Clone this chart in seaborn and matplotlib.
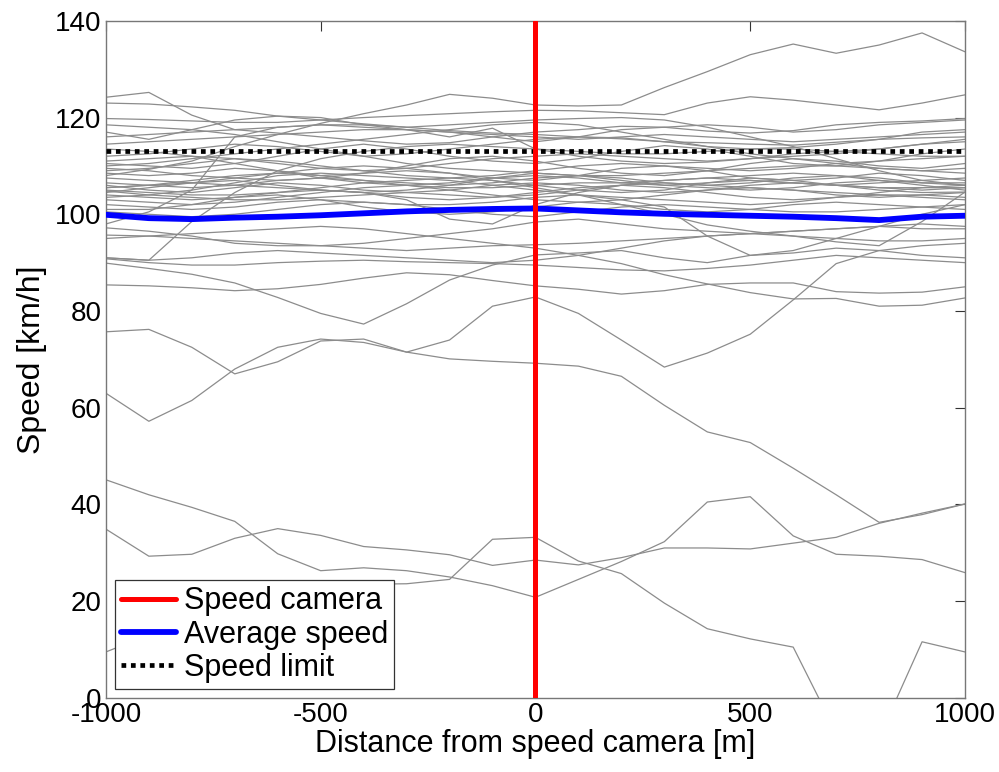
import numpy as np
import pandas as pd
import matplotlib
matplotlib.use("Agg")
import matplotlib.pyplot as plt
import seaborn as sns

# ---------------- data ----------------
distance = [-1000, -900, -800, -700, -600, -500, -400, -300, -200, -100, 0,
            100, 200, 300, 400, 500, 600, 700, 800, 900, 1000]

veh_A = [75.7, 76.2, 72.5, 67.0, 69.5, 73.8, 74.2, 71.5, 70.1, 69.6, 69.2, 68.6, 66.5, 60.5, 55.0, 52.8, 47.5, 42.0, 36.3, 37.9, 40.1]
veh_B = [45.1, 42.0, 39.4, 36.5, 29.8, 26.3, 26.9, 26.3, 25.0, 23.2, 20.8, 24.5, 28.2, 32.3, 40.5, 41.6, 33.5, 29.7, 29.3, 28.6, 25.9]
veh_C = [34.9, 29.3, 29.7, 33.0, 35.0, 33.6, 31.3, 30.6, 29.6, 27.4, 28.5, 27.5, 29.0, 31.0, 31.0, 30.8, 32.0, 33.2, 36.1, 38.2, 40.1]
veh_E = [9.5, 13.0, 16.5, 19.0, 21.0, 22.5, 23.5, 23.6, 24.5, 32.8, 33.2, 28.3, 25.7, 19.6, 14.3, 12.2, 10.5, -7.2, -8.2, 11.6, 9.5]
veh_F = [85.4, 85.2, 84.8, 84.2, 84.6, 85.5, 86.8, 87.9, 87.5, 86.3, 85.2, 84.5, 83.5, 84.2, 85.5, 85.8, 85.8, 84.0, 83.7, 83.9, 85.0]
veh_G = [89.9, 88.8, 87.6, 85.8, 82.8, 79.5, 77.3, 81.5, 86.4, 89.5, 91.6, 92.0, 92.5, 91.0, 90.0, 91.5, 92.0, 93.0, 92.5, 91.5, 91.0]
veh_I = [63.0, 57.2, 61.5, 68.0, 72.5, 74.2, 73.5, 71.5, 74.0, 81.0, 82.9, 79.5, 74.0, 68.4, 71.3, 75.2, 82.3, 89.8, 92.5, 93.5, 94.0]
veh_K = [95.0, 95.5, 96.0, 96.5, 97.0, 97.5, 97.0, 96.0, 95.0, 94.0, 93.0, 91.5, 89.8, 87.5, 85.6, 83.8, 82.5, 82.6, 81.0, 81.2, 82.7]
veh_U1 = [124.2, 125.2, 120.5, 117.5, 116.8, 116.0, 115.2, 114.5, 114.8, 116.0, 117.0, 117.5, 118.2, 118.0, 117.2, 116.8, 117.3, 118.5, 119.0, 119.3, 119.8]
veh_U2 = [123.0, 122.8, 122.2, 121.5, 120.3, 119.5, 118.7, 118.0, 117.3, 116.8, 116.5, 116.0, 115.6, 115.0, 114.8, 114.5, 114.3, 114.9, 115.5, 115.8, 116.0]
veh_U3 = [108.0, 109.3, 111.0, 114.0, 116.5, 118.8, 120.8, 122.6, 124.8, 124.0, 122.6, 122.4, 122.6, 126.2, 129.5, 133.0, 135.2, 133.3, 135.0, 137.5, 133.6]
veh_U4 = [119.8, 119.6, 119.3, 119.0, 119.0, 119.5, 120.0, 120.4, 120.8, 121.2, 121.5, 121.4, 121.0, 120.6, 123.0, 124.3, 123.6, 122.6, 121.6, 123.0, 124.7]
veh_U5 = [117.0, 115.5, 117.5, 119.5, 120.3, 120.0, 118.5, 117.5, 116.0, 117.8, 113.5, 112.0, 111.0, 110.5, 110.8, 111.5, 112.5, 113.0, 113.5, 114.5, 115.5]
veh_M1 = [112.0, 112.5, 113.5, 114.5, 114.0, 113.0, 112.0, 112.5, 113.5, 114.5, 115.5, 116.0, 115.8, 115.0, 114.0, 113.5, 113.8, 114.5, 115.5, 117.0, 117.5]
veh_M2 = [110.5, 110.0, 109.5, 110.5, 112.0, 113.5, 114.5, 113.5, 112.0, 111.0, 110.5, 111.5, 113.0, 114.2, 113.5, 112.0, 110.5, 110.0, 111.0, 112.5, 113.5]
veh_M3 = [108.5, 108.0, 108.5, 109.5, 109.0, 108.0, 108.5, 110.0, 111.5, 112.0, 111.0, 109.5, 108.5, 108.0, 109.0, 110.5, 111.5, 111.0, 110.0, 109.5, 110.5]
veh_M4 = [107.5, 107.0, 106.5, 107.5, 108.5, 109.5, 110.0, 109.5, 108.5, 107.5, 107.0, 108.0, 109.5, 110.0, 109.0, 107.5, 107.0, 107.5, 108.5, 108.0, 107.0]
veh_M5 = [106.5, 106.0, 105.5, 106.0, 107.0, 107.5, 107.0, 106.5, 106.0, 106.5, 107.5, 108.0, 107.5, 106.5, 106.0, 106.5, 107.5, 108.0, 107.5, 106.5, 106.0]
veh_M6 = [106.0, 105.0, 104.5, 105.5, 106.5, 106.0, 105.0, 104.5, 105.0, 106.0, 106.5, 106.0, 105.0, 104.5, 105.0, 106.0, 106.5, 106.0, 105.5, 105.0, 105.5]
veh_M7 = [105.0, 104.5, 104.0, 104.0, 104.5, 105.5, 106.5, 107.0, 107.5, 107.0, 106.0, 105.0, 104.5, 105.0, 106.5, 107.5, 107.0, 106.0, 105.0, 104.5, 104.6]
veh_M8 = [104.5, 105.5, 106.5, 107.0, 106.0, 105.0, 104.5, 105.0, 106.0, 107.5, 108.5, 108.0, 107.0, 106.0, 105.5, 105.0, 105.5, 106.5, 107.0, 106.0, 105.0]
veh_M9 = [104.0, 103.5, 103.0, 103.5, 104.5, 105.0, 104.5, 103.5, 103.0, 103.5, 104.5, 105.5, 106.0, 105.5, 104.5, 103.5, 103.0, 103.5, 104.0, 103.5, 103.0]
veh_M10 = [103.0, 102.5, 102.0, 102.5, 103.5, 104.5, 105.5, 106.0, 105.0, 104.0, 103.0, 102.5, 103.0, 104.0, 105.0, 105.5, 105.0, 104.0, 103.5, 104.0, 104.5]
veh_M11 = [102.0, 101.5, 101.0, 101.5, 102.5, 103.0, 102.5, 102.0, 102.0, 102.5, 103.5, 104.0, 103.5, 103.0, 102.5, 102.0, 102.5, 103.5, 104.5, 105.5, 106.0]
veh_M12 = [101.0, 101.0, 102.0, 103.5, 104.0, 103.0, 101.5, 100.5, 100.0, 100.5, 101.5, 102.5, 102.0, 101.0, 100.5, 101.0, 102.0, 102.5, 102.0, 101.5, 101.0]
veh_M13 = [91.0, 90.5, 98.5, 104.5, 109.0, 111.5, 113.0, 114.0, 114.5, 114.0, 113.5, 113.0, 112.5, 112.5, 113.0, 113.5, 113.5, 113.0, 112.5, 112.0, 112.0]
veh_M14 = [105.5, 106.0, 106.5, 106.0, 105.5, 105.0, 104.5, 103.0, 99.0, 98.0, 102.0, 104.5, 106.0, 107.0, 107.5, 107.0, 106.5, 106.0, 106.5, 107.0, 107.5]
veh_M15 = [103.5, 104.0, 105.0, 106.5, 108.0, 108.5, 108.0, 107.5, 107.0, 106.0, 105.0, 104.0, 103.0, 101.5, 95.5, 91.5, 92.5, 95.0, 97.5, 100.0, 102.0]
veh_M16 = [109.5, 109.0, 108.0, 107.5, 107.0, 107.5, 108.5, 109.0, 108.5, 107.0, 105.5, 104.0, 102.0, 100.0, 97.8, 96.5, 95.5, 94.3, 93.5, 98.5, 104.6]
veh_M17 = [97.2, 96.5, 95.5, 94.0, 93.5, 93.5, 94.0, 95.0, 96.0, 97.0, 98.4, 99.0, 98.0, 97.0, 96.5, 96.0, 96.5, 97.0, 97.5, 97.0, 97.0]
veh_M18 = [95.7, 95.5, 95.0, 94.5, 94.0, 93.5, 93.0, 92.5, 93.0, 93.5, 93.7, 94.0, 94.5, 95.0, 95.5, 96.0, 95.5, 95.0, 94.5, 94.5, 95.0]
veh_M19 = [90.8, 90.0, 89.5, 89.5, 90.0, 90.3, 90.5, 90.2, 90.0, 89.8, 89.5, 89.0, 88.5, 88.3, 88.8, 89.5, 90.5, 91.5, 91.0, 90.5, 90.0]
veh_M20 = [91.0, 90.5, 91.0, 92.0, 92.5, 92.0, 91.5, 91.0, 90.5, 90.0, 90.5, 91.5, 93.0, 94.5, 95.5, 96.0, 96.5, 97.0, 97.5, 98.0, 97.5]
veh_M22 = [114.5, 115.0, 115.5, 116.0, 116.5, 117.0, 117.5, 117.5, 117.0, 116.0, 115.0, 116.0, 117.5, 118.0, 118.5, 118.0, 117.0, 117.5, 118.5, 119.0, 119.5]
veh_M23 = [111.0, 111.5, 112.0, 111.5, 110.5, 109.5, 109.0, 109.5, 110.5, 111.5, 112.0, 112.5, 112.0, 111.5, 111.0, 111.5, 112.0, 112.5, 113.5, 114.5, 115.0]
veh_M24 = [109.0, 109.5, 110.5, 111.5, 111.0, 110.0, 109.0, 108.0, 107.5, 108.0, 109.0, 110.0, 110.5, 110.0, 109.5, 109.0, 109.5, 110.5, 111.0, 111.5, 112.0]
veh_M25 = [105.5, 106.0, 107.0, 108.0, 108.5, 108.0, 107.0, 106.0, 105.5, 105.5, 106.0, 106.5, 106.5, 107.0, 107.5, 108.0, 108.5, 108.0, 107.0, 106.5, 106.5]
veh_M26 = [104.8, 104.0, 103.5, 103.0, 103.0, 103.5, 104.0, 104.5, 104.0, 103.5, 104.0, 105.0, 106.0, 106.5, 106.0, 105.5, 105.0, 104.5, 104.0, 104.0, 103.5]
veh_M27 = [100.5, 100.0, 99.5, 100.0, 101.0, 102.0, 102.5, 102.0, 101.0, 100.0, 99.5, 100.5, 101.5, 102.0, 101.5, 101.0, 100.5, 100.5, 101.0, 101.5, 102.0]
veh_M28 = [98.0, 100.5, 105.0, 116.0, 118.0, 118.5, 118.0, 117.5, 117.0, 116.5, 116.0, 115.5, 116.0, 116.5, 116.0, 115.5, 115.0, 115.5, 116.0, 116.5, 117.0]
veh_M29 = [118.5, 118.0, 117.5, 116.5, 115.0, 113.5, 112.0, 110.5, 109.5, 109.0, 108.5, 108.0, 108.0, 108.5, 109.0, 109.5, 110.0, 110.0, 109.5, 109.0, 109.5]
veh_M30 = [113.5, 113.0, 112.0, 110.5, 109.0, 107.5, 106.5, 106.0, 106.5, 107.5, 108.0, 107.5, 106.5, 106.0, 106.5, 107.0, 106.5, 106.0, 105.5, 105.5, 105.5]
veh_M31 = [110.0, 110.5, 111.5, 112.5, 113.5, 114.5, 115.5, 116.5, 117.5, 118.5, 119.0, 118.5, 117.0, 115.5, 114.0, 112.5, 111.5, 110.5, 109.5, 109.0, 108.5]
veh_M32 = [116.0, 116.5, 117.0, 117.5, 118.0, 118.5, 118.5, 118.0, 118.5, 119.0, 119.5, 119.8, 120.0, 119.5, 118.0, 116.0, 114.0, 111.5, 109.0, 107.0, 106.0]

average_speed = [99.9, 99.2, 99.0, 99.3, 99.5, 99.8, 100.2, 100.6, 100.9, 101.1, 101.2,
                 100.8, 100.4, 100.1, 99.9, 99.7, 99.5, 99.2, 98.8, 99.5, 99.7]
speed_limit = 113.0
camera_position = 0

vehicles = {
    "A": veh_A, "B": veh_B, "C": veh_C, "E": veh_E, "F": veh_F, "G": veh_G,
    "I": veh_I, "K": veh_K, "U1": veh_U1, "U2": veh_U2, "U3": veh_U3,
    "U4": veh_U4, "U5": veh_U5, "M1": veh_M1, "M2": veh_M2, "M3": veh_M3,
    "M4": veh_M4, "M5": veh_M5, "M6": veh_M6, "M7": veh_M7, "M8": veh_M8,
    "M9": veh_M9, "M10": veh_M10, "M11": veh_M11, "M12": veh_M12,
    "M13": veh_M13, "M14": veh_M14, "M15": veh_M15, "M16": veh_M16,
    "M17": veh_M17, "M18": veh_M18, "M19": veh_M19, "M20": veh_M20,
    "M22": veh_M22, "M23": veh_M23, "M24": veh_M24, "M25": veh_M25,
    "M26": veh_M26, "M27": veh_M27, "M28": veh_M28, "M29": veh_M29,
    "M30": veh_M30, "M31": veh_M31, "M32": veh_M32,
}

long_df = pd.DataFrame(
    [(name, d, v) for name, vals in vehicles.items() for d, v in zip(distance, vals)],
    columns=["vehicle", "distance", "speed"],
)
avg_df = pd.DataFrame({"distance": distance, "speed": average_speed})

# ---------------- style ----------------
sns.set_theme(style="white")
plt.rcParams["font.family"] = ["Liberation Sans", "DejaVu Sans"]
plt.rcParams["axes.unicode_minus"] = False
plt.rcParams["text.color"] = "black"
plt.rcParams["axes.labelcolor"] = "black"
plt.rcParams["xtick.color"] = "black"
plt.rcParams["ytick.color"] = "black"

fig = plt.figure(figsize=(9.99, 7.72), dpi=100)
ax = fig.add_axes([0.106, 0.096, 0.860, 0.877])

sns.lineplot(data=long_df, x="distance", y="speed", units="vehicle",
             estimator=None, color="#8c8c8c", linewidth=0.9, ax=ax,
             legend=False)

ax.axvline(camera_position, color="#ff0000", linewidth=3.6,
           label="Speed camera", zorder=5)
sns.lineplot(data=avg_df, x="distance", y="speed", color="#0000ff",
             linewidth=4.2, ax=ax, label="Average speed", zorder=4)
ax.axhline(speed_limit, color="black", linewidth=3.4,
           linestyle=(0, (1, 1)), label="Speed limit", zorder=4)

ax.set_xlim(-1000, 1000)
ax.set_ylim(0, 140)
ax.set_xticks([-1000, -500, 0, 500, 1000])
ax.set_yticks([0, 20, 40, 60, 80, 100, 120, 140])
ax.tick_params(axis="both", which="both", labelsize=20, length=7,
               width=0.8, color="#333333", labelcolor="black",
               top=True, right=True, direction="in", pad=3)
for s in ax.spines.values():
    s.set_color("#777777")
    s.set_linewidth(1.0)

ax.set_xlabel("Distance from speed camera [m]", fontsize=22, labelpad=1,
              color="black")
ax.set_ylabel("Speed [km/h]", fontsize=23, labelpad=6, color="black")

handles, labels = ax.get_legend_handles_labels()
order = ["Speed camera", "Average speed", "Speed limit"]
hmap = dict(zip(labels, handles))
leg = ax.legend([hmap[k] for k in order], order, loc="lower left",
                fontsize=22, frameon=True, fancybox=False,
                edgecolor="#333333", framealpha=1, handlelength=1.8,
                handletextpad=0.25, borderpad=0.2, labelspacing=0.1,
                borderaxespad=0.3)
leg.get_frame().set_linewidth(0.9)
for t in leg.get_texts():
    t.set_color("black")

fig.savefig("out.png", dpi=100)
